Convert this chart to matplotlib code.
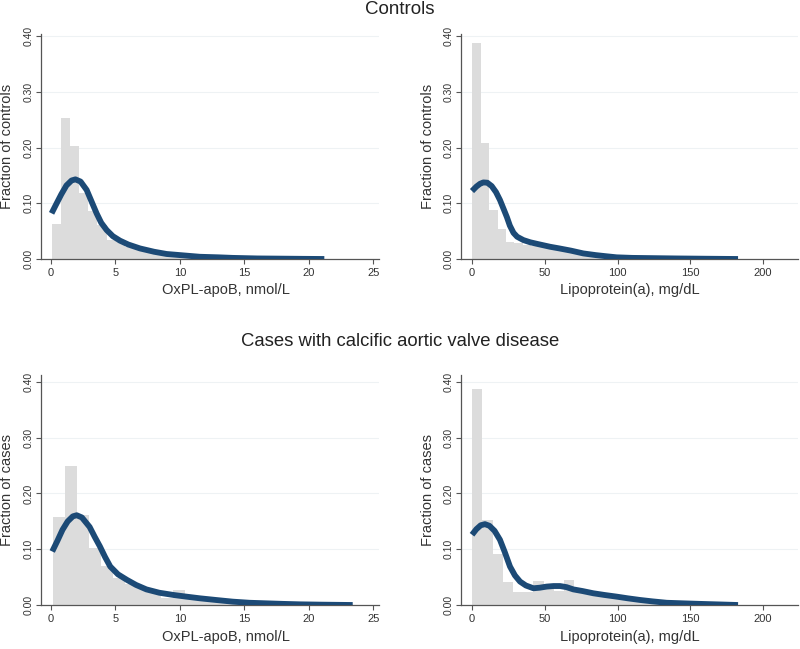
import numpy as np
import matplotlib
matplotlib.use("Agg")
import matplotlib.pyplot as plt

plt.rcParams['font.family'] = ['Liberation Sans', 'DejaVu Sans']

# ---------------- data ----------------
# Controls, OxPL-apoB histogram (fraction) and density curve
ctrl_ox_bin_start = 0.05
ctrl_ox_bin_width = 0.71
ctrl_ox_heights = [0.062, 0.254, 0.203, 0.118, 0.086, 0.061, 0.034, 0.030, 0.022,
                   0.018, 0.013, 0.010, 0.008, 0.007, 0.006, 0.005, 0.004, 0.004,
                   0.003, 0.003, 0.002, 0.002, 0.002, 0.001, 0.001, 0.001, 0.001,
                   0.001, 0.0005, 0.0005]
ctrl_ox_curve_x = [0.05, 0.4, 0.8, 1.2, 1.6, 1.9, 2.3, 2.77, 3.1, 3.54, 3.9, 4.32,
                   4.8, 5.35, 6.0, 6.9, 8.0, 8.97, 10.0, 11.55, 13.0, 14.1, 16.0,
                   18.0, 19.5, 21.2]
ctrl_ox_curve_y = [0.082, 0.098, 0.116, 0.132, 0.141, 0.143, 0.139, 0.124, 0.106,
                   0.082, 0.065, 0.052, 0.041, 0.033, 0.026, 0.019, 0.013, 0.009,
                   0.007, 0.004, 0.003, 0.002, 0.001, 0.0006, 0.0003, 0.0]

# Controls, Lp(a)
ctrl_lp_bin_start = 0.2
ctrl_lp_bin_width = 5.8
ctrl_lp_heights = [0.388, 0.209, 0.088, 0.053, 0.030, 0.028, 0.026, 0.024, 0.022,
                   0.020, 0.018, 0.016, 0.013, 0.011, 0.008, 0.006, 0.005, 0.004,
                   0.003, 0.003, 0.002, 0.002, 0.002, 0.001, 0.001, 0.001, 0.001,
                   0.001, 0.0005, 0.0005, 0.0005]
ctrl_lp_curve_x = [0.0, 3.0, 5.5, 7.8, 10.5, 13.5, 16.5, 19.2, 22.0, 24.0, 26.0,
                   28.5, 31.0, 35.3, 40.0, 45.0, 53.6, 60.0, 68.0, 76.5, 85.0,
                   92.0, 99.4, 110.0, 125.0, 140.0, 160.0, 182.8]
ctrl_lp_curve_y = [0.122, 0.130, 0.135, 0.1375, 0.137, 0.131, 0.120, 0.106, 0.088,
                   0.075, 0.060, 0.047, 0.040, 0.034, 0.030, 0.027, 0.022, 0.019,
                   0.015, 0.010, 0.007, 0.005, 0.003, 0.002, 0.0015, 0.001,
                   0.0005, 0.0]

# Cases, OxPL-apoB
case_ox_bin_start = 0.15
case_ox_bin_width = 0.93
case_ox_heights = [0.157, 0.249, 0.161, 0.103, 0.070, 0.048, 0.038, 0.030, 0.022,
                   0.012, 0.027, 0.016, 0.013, 0.010, 0.009, 0.007, 0.006, 0.005,
                   0.004, 0.003, 0.002, 0.002, 0.001, 0.001, 0.001]
case_ox_curve_x = [0.1, 0.5, 0.9, 1.3, 1.7, 2.0, 2.4, 3.0, 3.4, 3.8, 4.2, 4.6,
                   5.2, 5.9, 6.6, 7.4, 8.4, 9.5, 10.5, 11.55, 12.8, 14.1, 15.4,
                   16.7, 18.0, 19.3, 21.0, 23.4]
case_ox_curve_y = [0.096, 0.115, 0.135, 0.150, 0.159, 0.161, 0.157, 0.140, 0.122,
                   0.105, 0.086, 0.069, 0.055, 0.045, 0.036, 0.028, 0.022, 0.018,
                   0.015, 0.012, 0.009, 0.006, 0.004, 0.003, 0.002, 0.0012,
                   0.0006, 0.0]

# Cases, Lp(a)
case_lp_bin_start = 0.2
case_lp_bin_width = 7.0
case_lp_heights = [0.387, 0.153, 0.091, 0.042, 0.023, 0.023, 0.043, 0.030, 0.025,
                   0.044, 0.025, 0.020, 0.018, 0.016, 0.013, 0.011, 0.009, 0.007,
                   0.005, 0.004, 0.003, 0.002, 0.002, 0.001, 0.001, 0.001]
case_lp_curve_x = [0.0, 3.0, 6.0, 8.9, 12.0, 15.5, 19.2, 22.5, 26.1, 29.5, 33.0,
                   37.0, 42.2, 46.5, 51.3, 56.0, 60.5, 65.0, 69.6, 76.0, 83.4,
                   91.0, 99.4, 107.0, 115.5, 124.0, 133.8, 145.0, 156.7, 170.0,
                   182.8]
case_lp_curve_y = [0.126, 0.136, 0.143, 0.145, 0.142, 0.133, 0.117, 0.095, 0.069,
                   0.053, 0.042, 0.035, 0.030, 0.031, 0.033, 0.034, 0.034, 0.032,
                   0.028, 0.025, 0.021, 0.018, 0.015, 0.012, 0.009, 0.0065,
                   0.004, 0.003, 0.002, 0.001, 0.0]

ox_label = "OxPL-apoB, nmol/L"
lp_label = "Lipoprotein(a), mg/dL"
ox_ticks = [0, 5, 10, 15, 20, 25]
lp_ticks = [0, 50, 100, 150, 200]
y_ticks = [0.0, 0.1, 0.2, 0.3, 0.4]
y_ticklabels = ["0.00", "0.10", "0.20", "0.30", "0.40"]
title_top = "Controls"
title_bottom = "Cases with calcific aortic valve disease"

# ---------------- style ----------------
W, H = 800, 649
BAR_COLOR = "#dcdcdc"
CURVE_COLOR = "#1c4a76"
AX_COLOR = "#555555"

fig = plt.figure(figsize=(W / 100, H / 100), dpi=100)
fig.patch.set_facecolor("white")


def px_axes(left, top, right, bottom):
    return fig.add_axes([left / W, 1 - bottom / H, (right - left) / W, (bottom - top) / H])


def draw(ax, start, width, heights, cx, cy, xlim, ylim_top, xticks, xlabel, ylabel):
    heights = np.asarray(heights)
    lefts = start + width * np.arange(len(heights))
    ax.bar(lefts, heights, width=width, align="edge", color=BAR_COLOR,
           edgecolor="none", linewidth=0, zorder=2)
    ax.plot(cx, cy, color=CURVE_COLOR, lw=4.2, solid_capstyle="butt",
            solid_joinstyle="round", zorder=3)
    ax.set_xlim(*xlim)
    ax.set_ylim(0, ylim_top)
    ax.set_xticks(xticks)
    ax.set_xticklabels([str(t) for t in xticks], fontsize=8, color="#333333")
    ax.set_yticks(y_ticks)
    ax.set_yticklabels(y_ticklabels, fontsize=7.5, color="#333333", rotation=90,
                       va="center")
    for yv in y_ticks[1:]:
        ax.axhline(yv, color="#eef2f4", lw=0.8, zorder=1)
    for s in ["top", "right"]:
        ax.spines[s].set_visible(False)
    for s in ["left", "bottom"]:
        ax.spines[s].set_color(AX_COLOR)
        ax.spines[s].set_linewidth(0.9)
    ax.tick_params(axis="both", length=3.5, width=0.8, color=AX_COLOR)
    ax.tick_params(axis="x", pad=3)
    ax.tick_params(axis="y", pad=2)
    ax.set_xlabel(xlabel, fontsize=10.5, color="#333333", va="center")
    ax.set_ylabel(ylabel, fontsize=10.5, color="#333333", va="center")
    return ax


# top-left
ax1 = px_axes(41, 34, 379, 259)
draw(ax1, ctrl_ox_bin_start, ctrl_ox_bin_width, ctrl_ox_heights, ctrl_ox_curve_x,
     ctrl_ox_curve_y, (-0.77, 25.44), 0.404, ox_ticks, ox_label,
     "Fraction of controls")
ax1.xaxis.set_label_coords(0.547, -31 / 225)
ax1.yaxis.set_label_coords((7 - 41) / 338, 0.5)

# top-right
ax2 = px_axes(461, 34, 798, 259)
draw(ax2, ctrl_lp_bin_start, ctrl_lp_bin_width, ctrl_lp_heights, ctrl_lp_curve_x,
     ctrl_lp_curve_y, (-7.56, 224), 0.404, lp_ticks, lp_label,
     "Fraction of controls")
ax2.xaxis.set_label_coords(0.5, -31 / 225)
ax2.yaxis.set_label_coords((428 - 461) / 337, 0.5)

# bottom-left
ax3 = px_axes(41, 375, 379, 605)
draw(ax3, case_ox_bin_start, case_ox_bin_width, case_ox_heights, case_ox_curve_x,
     case_ox_curve_y, (-0.77, 25.44), 0.4125, ox_ticks, ox_label,
     "Fraction of cases")
ax3.xaxis.set_label_coords(0.547, -32 / 230)
ax3.yaxis.set_label_coords((7 - 41) / 338, 0.5)

# bottom-right
ax4 = px_axes(461, 375, 798, 605)
draw(ax4, case_lp_bin_start, case_lp_bin_width, case_lp_heights, case_lp_curve_x,
     case_lp_curve_y, (-7.56, 224), 0.4125, lp_ticks, lp_label,
     "Fraction of cases")
ax4.xaxis.set_label_coords(0.5, -32 / 230)
ax4.yaxis.set_label_coords((428 - 461) / 337, 0.5)

fig.text(0.5, 1 - 9 / H, title_top, ha="center", va="center", fontsize=13.5,
         color="#222222")
fig.text(0.5, 1 - 341 / H, title_bottom, ha="center", va="center", fontsize=13.3,
         color="#222222")

fig.savefig("out.png", dpi=100, facecolor="white")
